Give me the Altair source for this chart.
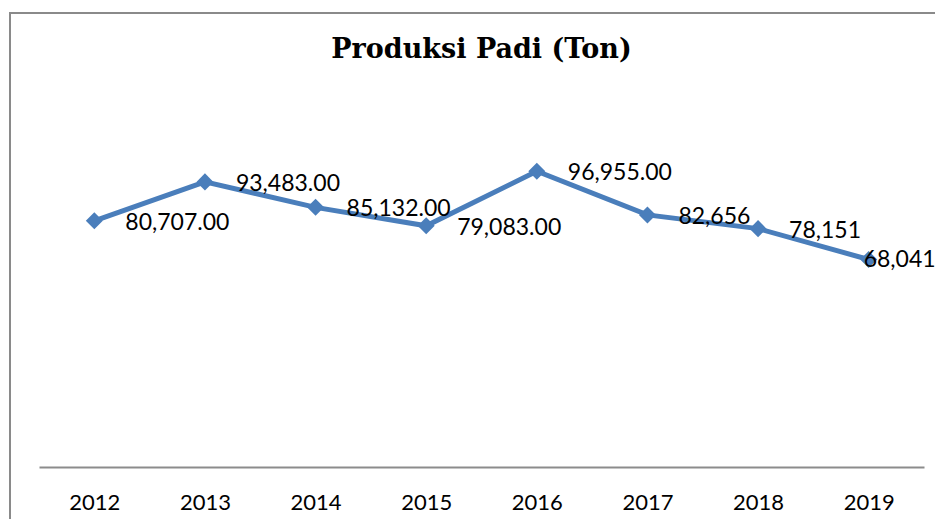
import altair as alt
import pandas as pd

years = ["2012", "2013", "2014", "2015", "2016", "2017", "2018", "2019"]
production = [80707, 93483, 85132, 79083, 96955, 82656, 78151, 68041]
labels = ["80,707.00", "93,483.00", "85,132.00", "79,083.00", "96,955.00",
          "82,656", "78,151", "68,041"]
title_text = "Produksi Padi (Ton)"

df = pd.DataFrame({"year": years, "value": production, "label": labels})

W, H = 885, 366
BLUE = "#4A7EBB"

x = alt.X("year:O", sort=years, title=None,
          scale=alt.Scale(type="point", padding=0.5),
          axis=alt.Axis(labelAngle=0, ticks=False, tickSize=0, grid=False,
                        domainColor="#8C8C8C", domainWidth=2,
                        labelFont="Lato", labelFontSize=22, labelColor="#000000",
                        labelPadding=25))
y = alt.Y("value:Q", title=None, scale=alt.Scale(domain=[0, 120000], nice=False, zero=True),
          axis=None)

base = alt.Chart(df)
one = pd.DataFrame({"t": [title_text]})

frame = alt.Chart(one).mark_rect(
    fillOpacity=0, stroke="#8A8A8A", strokeWidth=2
).encode(x=alt.value(-29), x2=alt.value(920), y=alt.value(-88), y2=alt.value(440))

title = alt.Chart(one).mark_text(
    font="DejaVu Serif", fontSize=27, fontWeight="bold", color="#000000",
    align="center", baseline="alphabetic"
).encode(x=alt.value(W / 2), y=alt.value(-43), text="t:N")

line = base.mark_line(color=BLUE, strokeWidth=5).encode(x=x, y=y)
pts = base.mark_point(shape="diamond", filled=True, size=290, color=BLUE, opacity=1).encode(x=x, y=y)

txt = base.transform_filter(alt.datum.year != "2019").mark_text(
    align="left", baseline="middle", dx=31, dy=2, font="Lato", fontSize=23, color="#000000"
).encode(x=x, y=y, text="label:N")
txt_last = base.transform_filter(alt.datum.year == "2019").mark_text(
    align="left", baseline="middle", dx=-5, dy=1, font="Lato", fontSize=23, color="#000000"
).encode(x=x, y=y, text="label:N")

chart = alt.layer(frame, title, line, pts, txt, txt_last).properties(
    width=W, height=H,
    background="#FFFFFF",
    autosize=alt.AutoSizeParams(type="none"),
    padding={"left": 31, "top": 93, "right": 11, "bottom": 52},
).configure_view(stroke="transparent", strokeWidth=0)

chart.save("out.html", embed_options={"renderer": "svg", "actions": False})
